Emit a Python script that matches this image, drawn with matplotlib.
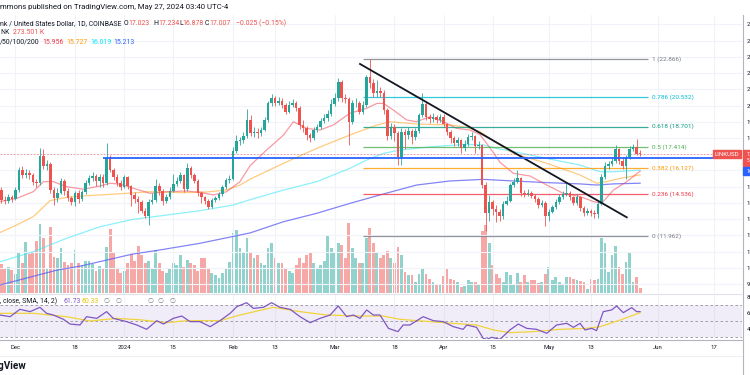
import numpy as np
import matplotlib
matplotlib.use("Agg")
import matplotlib.pyplot as plt
from matplotlib.patches import Rectangle
from matplotlib.lines import Line2D

plt.rcParams['font.family'] = ['Roboto', 'DejaVu Sans']

# ---- values: LINK/USD daily, day 0 = 2023-11-27, day 182 = 2024-05-27 ----
closes = [14.20, 14.10, 14.35, 14.25, 14.80, 16.03, 15.72, 15.82, 15.72, 15.31,
          15.21, 16.89, 16.27, 16.40, 14.80, 14.28, 14.63, 15.37, 14.75, 14.28,
          14.08, 14.63, 14.22, 14.69, 15.25, 15.51, 15.68, 15.37, 15.62, 15.21,
          16.75, 16.03, 15.62, 15.21, 15.00, 15.57, 15.04, 14.49, 14.22, 14.08,
          13.52, 13.19, 14.08, 14.18, 15.04, 14.75, 14.14, 14.34, 14.75, 15.16,
          15.37, 15.72, 14.84, 16.13, 15.72, 15.37, 14.59, 14.34, 14.14, 13.77,
          14.18, 14.30, 14.55, 14.96, 15.41, 15.49, 17.20, 17.83, 17.87, 18.12,
          19.11, 18.29, 18.39, 18.29, 18.49, 19.11, 20.13, 20.48, 20.18, 20.30,
          20.03, 19.62, 20.03, 20.18, 19.83, 18.80, 18.59, 18.18, 17.98, 18.49,
          18.66, 19.07, 19.21, 19.48, 20.09, 20.44, 21.43, 20.44, 20.40, 19.00,
          20.13, 20.18, 19.62, 20.03, 21.74, 21.37, 20.75, 20.91, 20.79, 19.72,
          18.12, 18.66, 18.29, 16.85, 18.39, 18.18, 18.45, 18.04, 18.45, 19.42,
          20.09, 19.31, 19.15, 19.27, 19.11, 19.31, 18.86, 18.39, 17.98, 17.71,
          17.88, 17.36, 17.63, 18.04, 18.12, 17.51, 17.57, 15.10, 13.36, 14.08,
          13.60, 13.46, 13.19, 13.93, 14.14, 15.10, 15.31, 15.51, 14.59, 14.55,
          14.63, 14.42, 14.22, 13.87, 14.01, 13.19, 13.46, 13.73, 14.08, 14.39,
          14.55, 14.63, 14.34, 14.01, 14.39, 13.66, 13.36, 13.52, 13.36, 13.32,
          13.93, 15.57, 16.27, 16.40, 16.60, 17.30, 16.60, 16.27, 16.81, 17.30,
          17.42, 17.032, 17.007]
highs = [15.00, 14.45, 14.55, 14.50, 14.95, 16.20, 16.30, 16.10, 16.05, 15.85,
         15.50, 17.36, 17.30, 16.65, 16.50, 15.00, 14.90, 15.55, 15.45, 14.90,
         14.45, 14.75, 14.80, 14.80, 15.40, 15.70, 15.90, 15.75, 15.80, 15.75,
         17.67, 16.95, 16.15, 15.75, 15.40, 15.70, 15.65, 15.10, 14.70, 14.40,
         14.20, 13.70, 14.25, 14.60, 15.45, 15.20, 14.85, 14.55, 14.95, 15.75,
         15.60, 15.90, 15.80, 16.45, 16.25, 15.85, 15.45, 14.75, 14.45, 14.25,
         14.30, 14.45, 14.70, 15.10, 15.55, 15.70, 17.45, 18.20, 18.05, 18.35,
         19.77, 19.40, 18.70, 18.60, 18.70, 19.30, 20.30, 20.70, 20.60, 20.55,
         20.45, 20.15, 20.25, 20.40, 20.30, 19.95, 19.10, 18.75, 18.30, 18.65,
         18.85, 19.25, 19.45, 19.75, 20.40, 20.75, 21.70, 21.60, 20.70, 20.55,
         20.35, 20.45, 20.30, 20.25, 21.90, 22.866, 21.65, 21.60, 21.15, 20.95,
         19.85, 18.90, 18.85, 18.40, 18.60, 18.55, 18.70, 18.55, 18.60, 19.55,
         20.75, 20.20, 19.50, 19.55, 19.40, 19.50, 19.45, 18.95, 18.50, 18.10,
         18.05, 17.95, 17.85, 18.25, 18.35, 18.20, 17.80, 17.65, 15.30, 14.50,
         14.20, 13.85, 13.60, 14.10, 14.40, 15.25, 15.55, 16.05, 15.60, 14.80,
         14.85, 14.75, 14.55, 14.35, 14.20, 14.10, 13.60, 13.90, 14.25, 14.55,
         14.75, 15.25, 14.75, 14.45, 14.55, 14.45, 13.80, 13.70, 13.65, 13.55,
         14.10, 15.75, 16.50, 16.60, 16.80, 17.55, 17.40, 16.80, 16.95, 17.50,
         17.60, 17.92, 17.234]
lows = [13.97, 13.95, 14.00, 14.05, 14.15, 14.70, 15.55, 15.55, 15.50, 15.10,
        14.95, 15.10, 16.10, 16.00, 14.60, 13.90, 14.05, 14.55, 14.50, 14.10,
        13.90, 13.80, 14.00, 14.10, 14.55, 15.10, 15.35, 15.05, 15.00, 14.95,
        15.10, 15.90, 15.40, 15.05, 14.80, 14.90, 14.85, 13.80, 14.00, 13.40,
        13.35, 13.05, 12.64, 13.95, 14.05, 14.50, 13.85, 14.00, 14.25, 14.65,
        15.05, 15.25, 14.70, 14.75, 15.55, 15.20, 14.45, 14.00, 13.95, 13.65,
        13.70, 14.05, 14.20, 14.40, 14.85, 15.20, 15.40, 17.05, 17.55, 17.70,
        18.00, 18.10, 18.05, 18.00, 18.15, 18.40, 19.00, 20.00, 19.95, 20.05,
        19.85, 19.45, 19.55, 19.90, 19.65, 18.55, 18.35, 17.90, 17.75, 17.85,
        18.35, 18.55, 18.95, 19.05, 19.35, 19.95, 20.30, 20.20, 20.15, 17.57,
        18.85, 19.90, 19.45, 19.50, 19.90, 21.10, 20.50, 20.55, 20.50, 19.50,
        17.90, 17.95, 17.80, 16.33, 16.33, 17.35, 17.95, 17.60, 17.85, 18.30,
        19.30, 19.10, 18.95, 19.00, 18.90, 19.00, 18.70, 18.20, 17.70, 17.50,
        17.50, 17.10, 17.20, 17.50, 17.90, 17.10, 17.30, 14.90, 12.25, 12.90,
        13.25, 12.85, 12.90, 13.00, 13.85, 14.05, 15.00, 15.20, 14.40, 14.35,
        14.40, 14.30, 14.05, 13.70, 13.75, 12.55, 12.90, 13.35, 13.60, 13.95,
        14.25, 14.40, 14.20, 13.85, 13.90, 13.50, 13.20, 13.25, 13.20, 13.05,
        13.05, 13.85, 15.45, 16.10, 16.25, 16.45, 16.40, 16.10, 15.50, 16.70,
        17.20, 16.95, 16.878]
first_open = 14.79
last_open = 17.023

volume_k = [1740, 1440, 1560, 1380, 1140, 2400, 1800, 3060, 2340, 2400,
            3120, 4140, 3300, 1500, 3960, 2160, 2100, 2700, 1860, 1680,
            1800, 2580, 1800, 1680, 1920, 1920, 1740, 1320, 1620, 1500,
            2760, 3840, 2400, 1500, 1200, 1320, 1800, 2340, 1920, 2820,
            2280, 1800, 1920, 1500, 2580, 1800, 1320, 1200, 1500, 1800,
            1680, 2280, 1560, 1980, 1800, 1680, 1320, 2100, 2100, 1500,
            1200, 1080, 900, 1200, 1500, 1860, 3600, 3780, 2700, 2400,
            3300, 2400, 2100, 2280, 1800, 1680, 2700, 3000, 2100, 1800,
            1800, 1500, 1320, 1200, 1680, 2100, 1800, 2280, 2400, 1800,
            1500, 1680, 1920, 3480, 2700, 2400, 3000, 2880, 2100, 4200,
            2700, 2100, 1800, 1800, 3300, 3900, 3000, 2400, 2100, 2280,
            2520, 2100, 1800, 2760, 2280, 1260, 1080, 1080, 660, 1140,
            1440, 1140, 840, 660, 540, 540, 1020, 1500, 840, 780,
            660, 360, 420, 780, 660, 660, 540, 3720, 4080, 3000,
            1680, 1140, 900, 660, 1260, 1080, 540, 1200, 660, 1080,
            660, 780, 780, 600, 660, 1140, 1560, 780, 960, 660,
            540, 960, 960, 840, 780, 720, 660, 240, 840, 780,
            840, 3300, 3000, 1260, 2280, 2820, 1560, 1140, 1860, 2400,
            660, 960, 273.5]

ma20_days = [-0.4, 4.4, 9.1, 12.0, 14.8, 18.6, 23.4, 28.1, 31.0, 33.8, 37.6, 42.4, 47.1,
             52.8, 56.6, 60.4, 64.2, 68.0, 70.9, 75.6, 80.4, 83.2, 87.0, 90.8, 94.6, 99.3,
             104.1, 107.0, 108.9, 111.7, 115.5, 118.3, 122.1, 126.0, 129.7, 133.5, 136.4,
             139.2, 142.1, 145.9, 150.6, 155.4, 160.1, 164.9, 168.7, 171.0, 174.4, 178.2, 182]
ma20_vals = [14.08, 14.28, 14.69, 15.31, 15.31, 15.00, 14.84, 15.04, 15.21, 15.16, 14.90, 14.59, 14.69,
             14.73, 14.65, 14.49, 14.69, 15.31, 16.30, 17.26, 18.18, 19.00, 18.59, 18.49, 18.80, 19.52,
             19.83, 20.13, 20.13, 19.72, 19.11, 19.00, 19.31, 19.00, 18.59, 18.49, 18.20,
             17.40, 16.50, 15.82, 15.66, 15.10, 14.59, 14.39, 14.08, 13.97, 14.79, 15.31, 15.956]
ma50_days = [-0.4, 4.4, 9.1, 13.9, 18.6, 23.4, 28.1, 35.7, 42.4, 51.9, 58.5, 64.2, 68.0, 70.9,
             80.4, 89.9, 99.3, 107.0, 110.8, 118.3, 127.8, 132.6, 136.4, 141.1, 145.9, 155.4,
             164.9, 169.6, 172.5, 176.3, 182]
ma50_vals = [12.17, 12.64, 13.15, 14.14, 14.34, 14.43, 14.49, 14.59, 14.69, 14.63, 14.67, 14.80, 15.10, 15.46,
             16.44, 17.36, 18.18, 18.80, 19.00, 18.86, 18.80, 18.66, 18.39, 17.70, 17.05, 16.44,
             15.72, 15.21, 15.31, 15.51, 15.727]
ma100_days = [-0.4, 9.1, 18.6, 28.1, 37.6, 47.1, 56.6, 66.1, 70.9, 80.4, 89.9, 99.3, 104.1,
              108.9, 113.6, 123.1, 132.6, 137.3, 141.1, 145.9, 155.4, 164.9, 170.6, 174.4, 182]
ma100_vals = [10.37, 10.99, 11.82, 12.53, 12.99, 13.25, 13.52, 13.87, 14.20, 14.79, 15.31, 16.13, 16.64,
              17.05, 17.26, 17.47, 17.61, 17.57, 17.36, 17.16, 16.74, 16.33, 15.92, 15.92, 16.019]
ma200_days = [-0.4, 15.9, 22.4, 37.5, 45.2, 56.6, 70.9, 80.4, 89.9, 99.3, 108.9, 118.3, 127.8,
              137.3, 145.9, 155.4, 164.9, 169.6, 174.4, 182]
ma200_vals = [8.94, 9.86, 10.10, 10.85, 11.10, 11.51, 12.15, 12.84, 13.36, 13.97, 14.55, 15.10, 15.35,
              15.45, 15.35, 15.25, 15.17, 15.10, 15.17, 15.213]

rsi_days = [-0.4, 2.5, 5.3, 8.2, 11.0, 12.9, 14.8, 17.7, 19.6, 22.4, 24.3, 27.2, 30.0, 31.9,
            35.7, 38.6, 41.4, 44.3, 46.2, 49.0, 51.4, 53.8, 56.6, 59.5, 62.3, 65.2, 67.1, 69.9,
            71.8, 74.7, 77.0, 79.4, 82.3, 85.1, 88.0, 90.8, 93.7, 96.0, 98.4, 100.3, 102.2,
            104.1, 106.0, 107.9, 110.3, 113.0, 114.5, 116.4, 120.2, 123.1, 125.9, 128.8, 131.6,
            132.6, 135.4, 137.3, 138.3, 139.7, 142.1, 144.9, 147.3, 149.7, 152.5, 155.4, 158.2,
            161.1, 163.0, 164.9, 166.3, 168.2, 169.6, 171.5, 173.9, 175.3, 177.2, 179.6, 181.0, 182]
rsi_vals = [57.5, 55.4, 64.6, 61.7, 67.1, 59.6, 57.5, 52.1, 46.2, 45.0, 55.4, 53.3, 61.7, 53.3,
            49.2, 45.0, 39.6, 50.4, 46.2, 53.3, 56.2, 49.2, 49.2, 42.9, 50.4, 59.6, 67.9, 72.9,
            65.8, 67.1, 72.9, 67.1, 64.6, 55.4, 47.9, 53.3, 57.5, 68.8, 55.4, 57.5, 53.3,
            63.8, 57.5, 57.5, 40.8, 36.7, 45.0, 45.0, 55.4, 50.4, 49.2, 42.9, 39.6,
            45.0, 42.1, 28.3, 27.1, 29.6, 27.1, 38.8, 46.2, 40.8, 39.6, 34.6, 45.0,
            47.1, 42.1, 47.1, 38.8, 40.8, 38.0, 61.7, 63.8, 68.8, 60.4, 66.7, 61.7, 61.73]
rsi_sma_days = [-0.4, 9.1, 18.6, 25.3, 32.9, 39.5, 47.1, 52.8, 62.3, 68.0, 77.5, 85.1, 92.7,
                102.2, 108.8, 113.6, 126.0, 135.4, 140.2, 144.9, 151.6, 159.2, 166.8, 170.6, 176.3, 182]
rsi_sma_vals = [59.6, 59.6, 55.4, 50.0, 53.3, 51.5, 47.9, 50.4, 50.4, 57.5, 67.1, 61.7, 57.5,
                56.2, 56.2, 52.1, 47.9, 45.0, 38.8, 35.4, 36.7, 39.6, 40.8, 42.9, 51.2, 60.33]

date_ticks = [4, 21, 35, 49, 66, 78, 95, 112, 126, 140, 156, 168, 187, 203]
date_labels = ['Dec', '18', '2024', '15', 'Feb', '13', 'Mar', '18', 'Apr', '15', 'May', '13', 'Jun', '17']

fib_ratios = ['1', '0.786', '0.618', '0.5', '0.382', '0.236', '0']
fib_prices = [22.866, 20.532, 18.701, 17.414, 16.127, 14.536, 11.962]
fib_colors = ['#787b86', '#00bcd4', '#089981', '#4caf50', '#ff9800', '#f23645', '#787b86']
fib_days = [103.0, 184.2]

trend_days = [102.2, 178.2]
trend_prices = [22.56, 13.11]
level_price = 16.78
level_start = 29.0

# ---- layout (pixels of a 750x375 canvas) ----
W, H = 750, 375
X0, X1 = -0.37, 211.03
PANE_R = 742
UP, DOWN = '#26a69a', '#ef5350'
TXT = '#131722'

fig = plt.figure(figsize=(W / 100, H / 100), dpi=100)
fig.patch.set_facecolor('white')


def fx(px):
    return px / W


def fy(py):
    return 1 - py / H


renderer = fig.canvas.get_renderer()


def fit(text, width_px, **kw):
    probe = fig.text(0, 0, text, fontsize=10, **kw)
    w = probe.get_window_extent(renderer).width
    probe.remove()
    return 10 * width_px / w


FS_TOP = fit("mmons published on TradingView.com, May 27, 2024 03:40 UTC-4", 230)
FS = fit("nk / United States Dollar, 1D, COINBASE", 121)
FS_FIB = fit("0.786 (20.532)", 41)
FS_AX = fit("2024", 13.5)

ax = fig.add_axes([0, fy(293), fx(PANE_R), (293 - 15) / H])
ax_vol = ax.twinx()
ax.set_zorder(2)
ax.patch.set_visible(False)
ax_vol.set_zorder(1)
ax_rsi = fig.add_axes([0, fy(339), fx(PANE_R), (339 - 294) / H])

for a in (ax, ax_vol, ax_rsi):
    a.set_xlim(X0, X1)
    for s in a.spines.values():
        s.set_visible(False)

ax.set_ylim(8.448, 25.577)
ax_vol.set_ylim(0, 278 * 60)
ax_vol.set_yticks([])
ax_rsi.set_ylim(27.5, 83.75)

# grid
for t in date_ticks:
    ax.axvline(t, color='#f0f3fa', lw=0.8, zorder=0)
    ax_rsi.axvline(t, color='#f0f3fa', lw=0.8, zorder=0)
for p in range(9, 26):
    ax.axhline(p, color='#f0f3fa', lw=0.8, zorder=0)

# candles and volume
days = np.arange(len(closes))
c = np.array(closes)
o = np.array([first_open] + closes[:-1])
o[-1] = last_open
up = c >= o
col = np.where(up, UP, DOWN)
vcol = [(0.149, 0.651, 0.604, 0.5) if u else (0.937, 0.325, 0.314, 0.5) for u in up]
ax_vol.bar(days, volume_k, width=0.8, color=vcol, linewidth=0)

ax.vlines(days, lows, highs, colors=col, lw=0.6, zorder=6)
ax.bar(days, np.maximum(np.abs(c - o), 0.04), bottom=np.minimum(o, c), width=0.72,
       color=col, linewidth=0, zorder=7)

# moving averages
ax.plot(ma200_days, ma200_vals, color='#5b5bf5', lw=0.9, alpha=0.75, zorder=3)
ax.plot(ma100_days, ma100_vals, color='#40e8f5', lw=0.9, alpha=0.6, zorder=3)
ax.plot(ma50_days, ma50_vals, color='#ff9800', lw=0.9, alpha=0.5, zorder=3)
ax.plot(ma20_days, ma20_vals, color='#f23645', lw=0.9, alpha=0.5, zorder=3)

# fib retracement
ax.hlines(fib_prices, fib_days[0], fib_days[1], colors=fib_colors, lw=0.9, alpha=0.8, zorder=4)
for r, p, cl in zip(fib_ratios, fib_prices, fib_colors):
    ax.text(fib_days[1] + 1.2, p, f"{r} ({p:.3f})", color=cl, fontsize=FS_FIB, va='center', ha='left', zorder=8)

# drawings
ax.plot(trend_days, trend_prices, color=TXT, lw=1.3, zorder=8)
ax.hlines(level_price, level_start, X1, color='#2962ff', lw=1.3, zorder=8)
ax.axhline(closes[-1], color=DOWN, lw=0.6, ls=(0, (2, 2)), alpha=0.6, zorder=4)

# price axis labels (mostly cut by the canvas edge)
ax.yaxis.tick_right()
ax.set_yticks(range(9, 26))
ax.tick_params(axis='y', length=0, pad=3.4, labelsize=FS_AX, labelcolor=TXT)
ax.tick_params(axis='x', length=0, labelbottom=False)

# RSI pane
ax_rsi.fill_between([X0, X1], 30, 70, color='#7e57c2', alpha=0.1, lw=0)
ax_rsi.hlines([70, 50, 30], X0, X1, colors='#787b86', lw=0.6, ls=(0, (3, 3)), alpha=0.8)
ax_rsi.plot(rsi_sma_days, rsi_sma_vals, color='#f2d33a', lw=0.9, zorder=3)
ax_rsi.plot(rsi_days, rsi_vals, color='#7e57c2', lw=0.9, zorder=4)
ax_rsi.yaxis.tick_right()
ax_rsi.set_yticks([40, 60, 80])
ax_rsi.tick_params(axis='y', length=0, pad=3.4, labelsize=FS_AX, labelcolor=TXT)
ax_rsi.set_xticks(date_ticks, date_labels)
ax_rsi.tick_params(axis='x', length=0, pad=4.5, labelsize=FS_AX, labelcolor=TXT)

# frame lines
fig.add_artist(Line2D([fx(PANE_R + 0.5)] * 2, [fy(15), 0], color='#b2b5be', lw=0.8))
fig.add_artist(Line2D([0, fx(PANE_R)], [fy(293.5)] * 2, color='#e0e3eb', lw=0.8))
fig.add_artist(Line2D([0, fx(PANE_R)], [fy(339.5)] * 2, color='#b2b5be', lw=0.8))
fig.add_artist(Line2D([0, fx(PANE_R)], [fy(355.5)] * 2, color='#eef0f4', lw=0.8))


def row(y, pieces, size):
    for x, parts in pieces:
        for text, color in parts:
            t = fig.text(fx(x), fy(y), text, color=color, fontsize=size, va='center', ha='left')
            x += t.get_window_extent(renderer).width


row(7.3, [(0, [("mmons published on TradingView.com, May 27, 2024 03:40 UTC-4", TXT)])], FS_TOP)
row(23.5, [(0, [("nk / United States Dollar, 1D, COINBASE", TXT)]),
           (124, [("O", TXT), ("17.023", DOWN)]),
           (153, [("H", TXT), ("17.234", DOWN)]),
           (179, [("L", TXT), ("16.878", DOWN)]),
           (205, [("C", TXT), ("17.007", DOWN)]),
           (236, [("\u22120.025 (\u22120.15%)", DOWN)])], FS)
row(33, [(0, [("NK", TXT)]), (12.7, [("273.501 K", DOWN)])], FS)
row(42, [(0, [("/50/100/200", TXT)]), (42.7, [("15.956", '#f23645')]), (66.7, [("15.727", '#ff9800')]),
         (90.7, [("16.019", '#00e5ff')]), (113.3, [("15.213", '#2962ff')])], FS)
FS_RSI = fit(", close, SMA, 14, 2)", 57)
row(301.5, [(0, [(", close, SMA, 14, 2)", TXT)]), (63, [("61.73", '#7e57c2')]), (82, [("60.33", '#e8c400')]),
            (104, [("\u2205", '#787b86')]), (116, [("\u2205", '#787b86')]), (147, [("\u2205", '#787b86')]),
            (158, [("\u2205", '#787b86')]), (169, [("\u2205", '#787b86')])], FS_RSI)

# price tags
fig.add_artist(Rectangle((fx(713), fy(158)), fx(28), 8 / H, color=DOWN, zorder=20))
fig.text(fx(727), fy(154), "LINKUSD", color='white', fontsize=FS * 0.9, ha='center', va='center', zorder=21)
fig.add_artist(Rectangle((fx(742.5), fy(166)), fx(10), 16 / H, color=DOWN, zorder=20))
fig.text(fx(746.5), fy(154), "17.007", color='white', fontsize=FS_AX * 0.9, ha='left', va='center', zorder=21)
fig.text(fx(746.5), fy(161), "5", color='white', fontsize=FS_AX * 0.8, ha='left', va='center', zorder=21)
fig.add_artist(Rectangle((fx(742.5), fy(175)), fx(10), 8 / H, color='#2962ff', zorder=20))
fig.text(fx(746.5), fy(171.5), "16.780", color='white', fontsize=FS_AX * 0.9, ha='left', va='center', zorder=21)

fig.text(fx(27), fy(366), "TradingView", color=TXT, fontsize=FS * 1.45, fontweight='bold',
         ha='right', va='center')

fig.savefig('out.png', dpi=100)
